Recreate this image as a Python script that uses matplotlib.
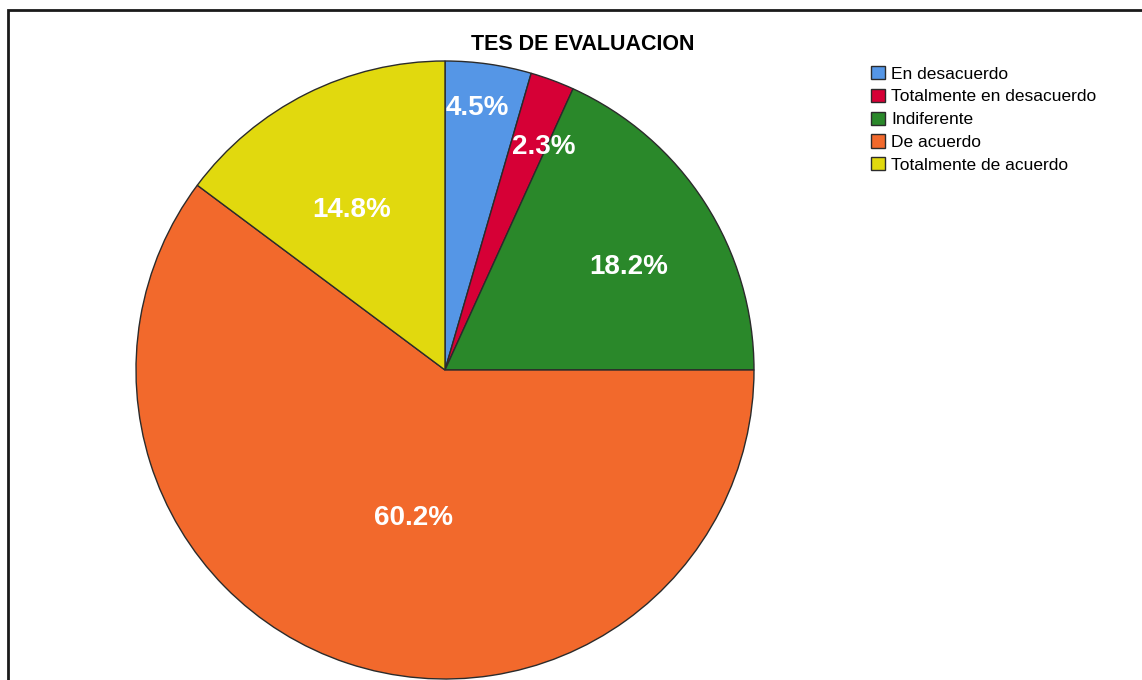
import numpy as np
import matplotlib
matplotlib.use("Agg")
import matplotlib.pyplot as plt
import matplotlib.patches as patches

plt.rcParams["font.family"] = ["Liberation Sans", "DejaVu Sans"]

# data
categories = ["En desacuerdo", "Totalmente en desacuerdo", "Indiferente",
              "De acuerdo", "Totalmente de acuerdo"]
percentages = [4.5, 2.3, 18.2, 60.2, 14.8]
colors = ["#5596E6", "#D60036", "#2A882A", "#F2692C", "#E1D90E"]
title = "TES DE EVALUACION"

# label distance from centre (fraction of radius) and angle nudge per wedge
label_dist = [0.855, 0.79, 0.68, 0.49, 0.60]
label_shift = [1.0, -3.5, -3.5, 6.5, 3.5]

W, H = 1142, 680
fig = plt.figure(figsize=(W / 100, H / 100), dpi=100)
fig.patch.set_facecolor("white")
ax = fig.add_axes([0, 0, 1, 1])

cx, cy, r = 445, H - 370, 309
wedges, _ = ax.pie(percentages, colors=colors, startangle=90, counterclock=False,
                   center=(cx, cy), radius=r, frame=True,
                   wedgeprops=dict(edgecolor="#2b2b2b", linewidth=1.0))
ax.set_xlim(0, W)
ax.set_ylim(0, H)
ax.set_aspect("equal")
ax.axis("off")

for w, p, d, s in zip(wedges, percentages, label_dist, label_shift):
    mid = np.deg2rad((w.theta1 + w.theta2) / 2 + s)
    ax.text(cx + d * r * np.cos(mid), cy + d * r * np.sin(mid), f"{p}%",
            ha="center", va="center", color="white", fontsize=20,
            fontweight="bold")

# outer frame (cropped screenshot of the output viewer)
fig.add_artist(patches.Rectangle((8 / W, -0.1), 1.2, (H - 10) / H + 0.1,
                                 transform=fig.transFigure, fill=False,
                                 edgecolor="#1a1a1a", linewidth=2))

fig.text(583 / W, 1 - 44 / H, title, ha="center", va="center",
         fontsize=15.5, fontweight="bold", color="black")

fig.legend(wedges, categories, loc="upper left",
           bbox_to_anchor=(871 / W, 1 - 66 / H), frameon=False,
           fontsize=12.5, handlelength=0.8, handleheight=0.8,
           handletextpad=0.35, labelspacing=0.41, borderaxespad=0,
           borderpad=0)

fig.savefig("out.png", dpi=100, facecolor="white")
